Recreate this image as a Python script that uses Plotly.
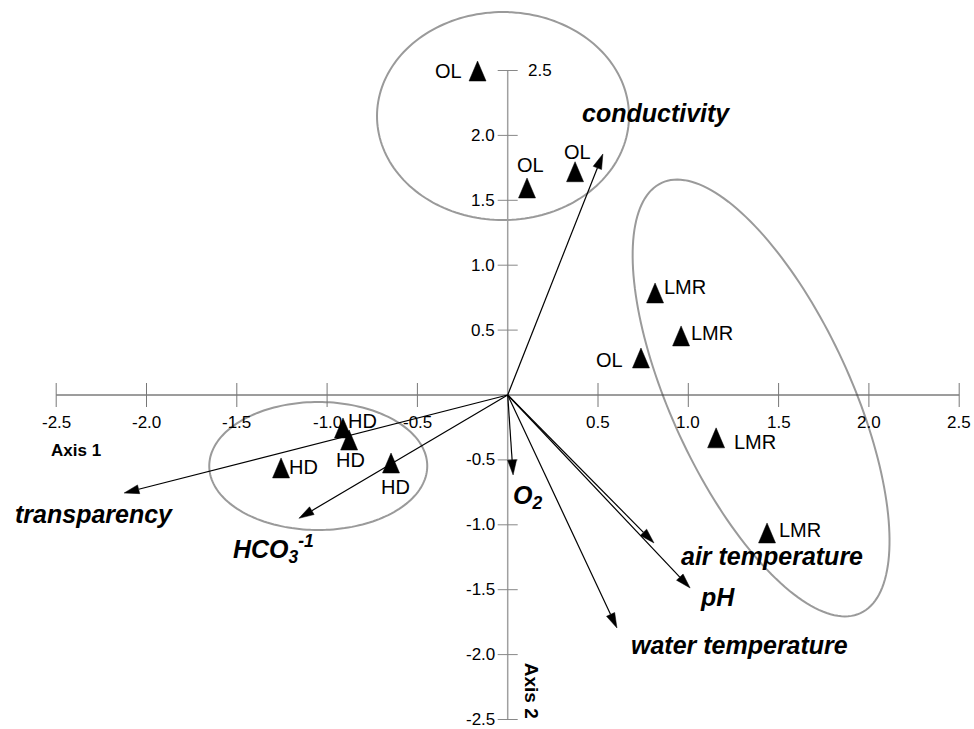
import numpy as np
import plotly.graph_objects as go

# ---------------- data ----------------
site_groups = ['OL', 'OL', 'OL', 'LMR', 'LMR', 'OL', 'LMR', 'LMR', 'HD', 'HD', 'HD', 'HD']
site_x = [-0.167, 0.107, 0.373, 0.816, 0.960, 0.738, 1.154, 1.436, -0.912, -0.878, -1.255, -0.646]
site_y = [2.496, 1.595, 1.720, 0.786, 0.455, 0.285, -0.330, -1.063, -0.254, -0.347, -0.562, -0.524]

variables = ['<b><i>conductivity</i></b>', '<b><i>transparency</i></b>',
             '<b><i>HCO<sub>3</sub><sup>-1</sup></i></b>', '<b><i>O<sub>2</sub></i></b>',
             '<b><i>air temperature</i></b>', '<b><i>pH</i></b>', '<b><i>water temperature</i></b>']
var_x = [0.527, -2.124, -1.156, 0.030, 0.810, 1.010, 0.605]
var_y = [1.857, -0.755, -0.950, -0.616, -1.140, -1.487, -1.795]

x_ticks = [-2.5, -2.0, -1.5, -1.0, -0.5, 0.5, 1.0, 1.5, 2.0, 2.5]
x_tick_labels = ['-2.5', '-2.0', '-1.5', '-1.0', '-0.5', '0.5', '1.0', '1.5', '2.0', '2.5']
y_ticks = [2.5, 2.0, 1.5, 1.0, 0.5, -0.5, -1.0, -1.5, -2.0, -2.5]
y_tick_labels = ['2.5', '2.0', '1.5', '1.0', '0.5', '-0.5', '-1.0', '-1.5', '-2.0', '-2.5']

# group ellipses: centre (data), semi-axes (px), rotation (deg)
ellipses = [
    dict(cx=-0.026, cy=2.149, a=126, b=104, rot=0),
    dict(cx=-1.049, cy=-0.547, a=109, b=64, rot=0),
    dict(cx=1.403, cy=-0.023, a=237, b=89.6, rot=-65.2),
]

# ---------------- layout / styling ----------------
W, H = 974, 729
X0PX, Y0PX = 507.7, 395.0
SX, SY = 180.6, 129.8  # px per data unit
xr = [-X0PX / SX, (W - X0PX) / SX]
yr = [(Y0PX - H) / SY, Y0PX / SY]

FONT = 'Liberation Sans, Arial, sans-serif'

# label offsets (px, screen: right, down)
site_label_shift = [(-29, 0), (3, -23), (2, -20), (30, -6), (31, -3), (-31, 2),
                    (39, 4), (33, -3), (20, -7), (1, 20), (22, -1), (4, 24)]
var_label_shift = [(53, -41), (-30, 21), (-25, 31), (14, 22), (118, 13), (27, 9), (123, 17)]

fig = go.Figure()
shapes = []
annotations = []

# ellipses
for e in ellipses:
    t = np.linspace(0, 2 * np.pi, 181)
    phi = np.deg2rad(e['rot'])
    u = e['a'] * np.cos(t)
    v = e['b'] * np.sin(t)
    px = u * np.cos(phi) - v * np.sin(phi)
    py = u * np.sin(phi) + v * np.cos(phi)
    xs = e['cx'] + px / SX
    ys = e['cy'] + py / SY
    path = 'M ' + ' L '.join(f'{a:.5f},{b:.5f}' for a, b in zip(xs, ys)) + ' Z'
    shapes.append(dict(type='path', path=path, xref='x', yref='y',
                       line=dict(color='#9a9a9a', width=2), layer='below'))

# axes
shapes.append(dict(type='line', x0=x_ticks[0], x1=x_ticks[-1], y0=0, y1=0, xref='x', yref='y',
                   line=dict(color='#3a3a3a', width=1), layer='below'))
shapes.append(dict(type='line', x0=0, x1=0, y0=min(y_ticks), y1=max(y_ticks), xref='x', yref='y',
                   line=dict(color='#a0a0a0', width=1.5), layer='below'))
for t in x_ticks:
    shapes.append(dict(type='line', x0=t, x1=t, y0=-12 / SY, y1=12 / SY, xref='x', yref='y',
                       line=dict(color='#777777', width=1), layer='below'))
for t in y_ticks:
    shapes.append(dict(type='line', x0=-10 / SX, x1=10 / SX, y0=t, y1=t, xref='x', yref='y',
                       line=dict(color='#888888', width=1), layer='below'))

for t, lab in zip(x_ticks, x_tick_labels):
    annotations.append(dict(x=t, y=0, xref='x', yref='y', text=lab, showarrow=False,
                            xanchor='center', yanchor='middle', yshift=-27,
                            font=dict(family=FONT, size=17, color='black')))
for t, lab in zip(y_ticks, y_tick_labels):
    if t == max(y_ticks):
        annotations.append(dict(x=0, y=t, xref='x', yref='y', text=lab, showarrow=False,
                                xanchor='left', yanchor='middle', xshift=18,
                                font=dict(family=FONT, size=17, color='black')))
    else:
        annotations.append(dict(x=0, y=t, xref='x', yref='y', text=lab, showarrow=False,
                                xanchor='right', yanchor='middle', xshift=-11,
                                font=dict(family=FONT, size=17, color='black')))

annotations.append(dict(x=-2.39, y=-0.424, xref='x', yref='y', text='<b>Axis 1</b>', showarrow=False,
                        font=dict(family=FONT, size=17, color='black')))
annotations.append(dict(x=0.13, y=-2.28, xref='x', yref='y', text='<b>Axis 2</b>', showarrow=False,
                        textangle=90, font=dict(family=FONT, size=19, color='black')))

# arrows (lines + heads)
L, HW = 15.0, 4.5
line_x, line_y, head_x, head_y = [], [], [], []
for vx, vy in zip(var_x, var_y):
    tx, ty = vx * SX, vy * SY
    n = np.hypot(tx, ty)
    dx, dy = tx / n, ty / n
    bx, by = tx - L * dx, ty - L * dy
    line_x += [0, bx / SX, None]
    line_y += [0, by / SY, None]
    px_, py_ = -dy, dx
    head_x += [vx, (bx + HW * px_) / SX, (bx - HW * px_) / SX, vx, None]
    head_y += [vy, (by + HW * py_) / SY, (by - HW * py_) / SY, vy, None]

fig.add_trace(go.Scatter(x=line_x, y=line_y, mode='lines',
                         line=dict(color='black', width=1.2), hoverinfo='skip', showlegend=False))
fig.add_trace(go.Scatter(x=head_x, y=head_y, mode='lines', fill='toself', fillcolor='black',
                         line=dict(color='black', width=0.5), hoverinfo='skip', showlegend=False))

for vx, vy, lab, (sx, sy) in zip(var_x, var_y, variables, var_label_shift):
    annotations.append(dict(x=vx, y=vy, xref='x', yref='y', text=lab, showarrow=False,
                            xanchor='center', yanchor='middle', xshift=sx, yshift=-sy,
                            font=dict(family=FONT, size=25, color='black')))

# site triangles
TW, TH = 8.5, 10.0
tri_x, tri_y = [], []
for x, y in zip(site_x, site_y):
    tri_x += [x, x + TW / SX, x - TW / SX, x, None]
    tri_y += [y + TH / SY, y - TH / SY, y - TH / SY, y + TH / SY, None]
fig.add_trace(go.Scatter(x=tri_x, y=tri_y, mode='lines', fill='toself', fillcolor='black',
                         line=dict(color='black', width=0.5), hoverinfo='skip', showlegend=False))

for x, y, g, (sx, sy) in zip(site_x, site_y, site_groups, site_label_shift):
    annotations.append(dict(x=x, y=y, xref='x', yref='y', text=g, showarrow=False,
                            xanchor='center', yanchor='middle', xshift=sx, yshift=-sy,
                            font=dict(family=FONT, size=20, color='black')))

fig.update_layout(
    width=W, height=H, margin=dict(l=0, r=0, t=0, b=0),
    paper_bgcolor='white', plot_bgcolor='white',
    xaxis=dict(range=xr, visible=False, fixedrange=True),
    yaxis=dict(range=yr, visible=False, fixedrange=True),
    shapes=shapes, annotations=annotations, showlegend=False,
)

fig.write_html('out.html')
